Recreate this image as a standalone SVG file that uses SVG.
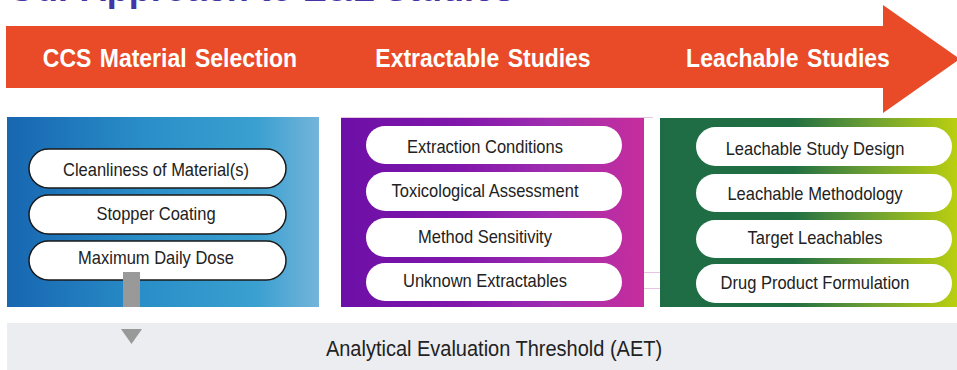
<svg xmlns="http://www.w3.org/2000/svg" width="957" height="370" viewBox="0 0 957 370">
  <defs>
    <linearGradient id="gBlue" x1="0" y1="0" x2="1" y2="0">
      <stop offset="0" stop-color="#1766b1"/>
      <stop offset="0.45" stop-color="#2a8fc8"/>
      <stop offset="0.8" stop-color="#3aa0d0"/>
      <stop offset="1" stop-color="#74b4da"/>
    </linearGradient>
    <linearGradient id="gPurple" x1="0" y1="0" x2="1" y2="0">
      <stop offset="0" stop-color="#6c0fa7"/>
      <stop offset="0.4" stop-color="#8217ab"/>
      <stop offset="0.7" stop-color="#a02eb0"/>
      <stop offset="1" stop-color="#c72d9c"/>
    </linearGradient>
    <linearGradient id="gGreen" x1="0" y1="0" x2="1" y2="0">
      <stop offset="0" stop-color="#1e6c45"/>
      <stop offset="0.45" stop-color="#226f42"/>
      <stop offset="0.7" stop-color="#6a9e34"/>
      <stop offset="1" stop-color="#bacf10"/>
    </linearGradient>
    <style>
      .pill { fill: #ffffff; }
      .pillS { fill: #ffffff; stroke: #1a1a1a; stroke-width: 1.5; }
      .t { font-family: "Liberation Sans", Arial, sans-serif; font-size: 16.5px; fill: #222222; text-anchor: middle; }
      .h { font-family: "Liberation Sans", Arial, sans-serif; font-size: 23px; font-weight: bold; fill: #ffffff; text-anchor: middle; word-spacing: 2px; }
      .aet { font-family: "Liberation Sans", Arial, sans-serif; font-size: 20px; fill: #222222; text-anchor: middle; }
      .faint { stroke: #e6c4e2; stroke-width: 1; }
    </style>
  </defs>

  <!-- page title, mostly above the visible area -->
  <text x="8" y="0.5" font-family="'Liberation Sans', Arial, sans-serif" font-size="36" font-weight="bold" fill="#4534a6">Our Approach to E&amp;L Studies</text>

  <!-- process arrow -->
  <g id="process-arrow">
    <polygon points="6,26 883,26 883,5 960,59 883,113 883,88 6,88" fill="#e94a27"/>
    <text class="h" transform="translate(170,67) scale(1,1.15)">CCS Material Selection</text>
    <text class="h" transform="translate(483,67) scale(1,1.15)">Extractable Studies</text>
    <text class="h" transform="translate(788,67) scale(1,1.15)">Leachable Studies</text>
  </g>

  <!-- CCS material selection panel -->
  <g id="panel-ccs">
    <rect x="7" y="117" width="312" height="190" fill="url(#gBlue)"/>
    <rect class="pillS" x="29" y="149" width="257" height="39" rx="19.5"/>
    <text class="t" transform="translate(156,176) scale(1,1.13)">Cleanliness of Material(s)</text>
    <rect class="pillS" x="29" y="195" width="257" height="39" rx="19.5"/>
    <text class="t" transform="translate(156,220) scale(1,1.13)">Stopper Coating</text>
    <rect class="pillS" x="29" y="241" width="257" height="39" rx="19.5"/>
    <text class="t" transform="translate(156,264) scale(1,1.13)">Maximum Daily Dose</text>
  </g>

  <!-- extractable studies panel -->
  <g id="panel-extractables">
    <rect x="341" y="117" width="303" height="190" fill="url(#gPurple)"/>
    <rect class="pill" x="366" y="126" width="256" height="38" rx="19"/>
    <text class="t" transform="translate(485,153) scale(1,1.13)">Extraction Conditions</text>
    <rect class="pill" x="366" y="172" width="256" height="39" rx="19.5"/>
    <text class="t" transform="translate(485,197) scale(1,1.13)">Toxicological Assessment</text>
    <rect class="pill" x="366" y="218" width="256" height="39" rx="19.5"/>
    <text class="t" transform="translate(485,243) scale(1,1.13)">Method Sensitivity</text>
    <rect class="pill" x="366" y="263" width="256" height="38" rx="19"/>
    <text class="t" transform="translate(485,287) scale(1,1.13)">Unknown Extractables</text>
  </g>

  <!-- leachable studies panel -->
  <g id="panel-leachables">
    <rect x="660" y="118" width="297" height="189" fill="url(#gGreen)"/>
    <rect class="pill" x="696" y="127" width="256" height="39" rx="19.5"/>
    <text class="t" transform="translate(815,155) scale(1,1.13)">Leachable Study Design</text>
    <rect class="pill" x="696" y="174" width="256" height="38" rx="19"/>
    <text class="t" transform="translate(815,200) scale(1,1.13)">Leachable Methodology</text>
    <rect class="pill" x="696" y="220" width="256" height="38" rx="19"/>
    <text class="t" transform="translate(815,244) scale(1,1.13)">Target Leachables</text>
    <rect class="pill" x="696" y="264" width="256" height="39" rx="19.5"/>
    <text class="t" transform="translate(815,289) scale(1,1.13)">Drug Product Formulation</text>
  </g>

  <!-- analytical evaluation threshold band -->
  <g id="aet-band">
    <rect x="7" y="323" width="950" height="47" fill="#ecedf1"/>
    <text class="aet" transform="translate(494,356) scale(1,1.08)">Analytical Evaluation Threshold (AET)</text>
  </g>

  <!-- connectors -->
  <g id="connectors">
    <rect x="123" y="272" width="17" height="35" fill="#999999"/>
    <polygon points="121,329 142,329 131.5,344" fill="#999999"/>
    <line class="faint" x1="341" y1="117.5" x2="653" y2="117.5"/>
    <line class="faint" x1="644" y1="272.5" x2="660" y2="272.5"/>
    <line class="faint" x1="644" y1="288.5" x2="660" y2="288.5"/>
  </g>
</svg>
